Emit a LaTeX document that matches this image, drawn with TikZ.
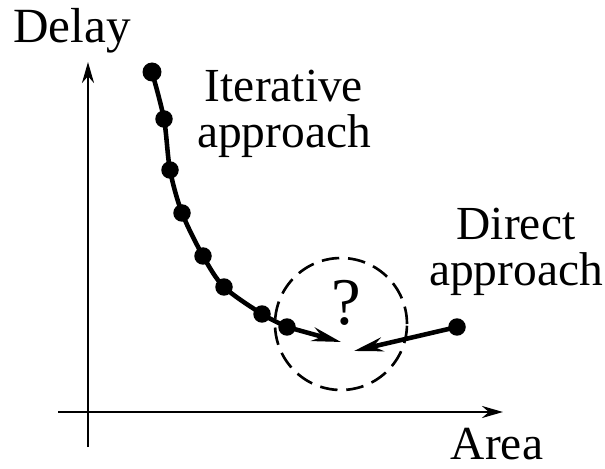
\documentclass[tikz,border=0pt]{standalone}
\usepackage{fontspec}
\setmainfont{Liberation Serif}
\usetikzlibrary{arrows.meta}

\begin{document}
\begin{tikzpicture}[
    x=0.02cm, y=-0.02cm,
    font=\fontsize{27}{26}\selectfont,
    dot/.style={circle, fill, inner sep=0pt, minimum size=0.35cm},
    lbl/.style={align=center, inner sep=0pt},
    axis/.style={line width=1.5pt, -{Stealth[length=4.2mm, width=2.4mm]}},
    curve/.style={line width=2.6pt, line cap=round, line join=round},
    arr/.style={line width=2.6pt, -{Stealth[length=5.8mm, width=2.8mm]}},
    ring/.style={draw, circle, line width=1.5pt, dash pattern=on 10pt off 5pt,
                 minimum size=2.64cm, inner sep=0pt},
  ]
  \useasboundingbox (0,0) rectangle (605,469);

  % axes
  \coordinate (ybot) at (88,447);
  \coordinate (ytop) at (88,62);
  \coordinate (xleft) at (58,412);
  \coordinate (xright) at (503,412);
  \draw[axis] (ybot) -- (ytop);
  \draw[axis] (xleft) -- (xright);
  \node[lbl, font=\fontsize{28}{28}\selectfont] (delay) at (72,31) {Delay};
  \node[lbl] (area) at (497,444) {Area};

  % iterative points along the curve
  \node[dot, minimum size=0.38cm] (p1) at (152,72) {};
  \node[dot] (p2) at (164,119) {};
  \node[dot] (p3) at (170,170) {};
  \node[dot] (p4) at (182,213) {};
  \node[dot] (p5) at (203,256) {};
  \node[dot] (p6) at (224,287) {};
  \node[dot] (p7) at (262,314) {};
  \node[dot] (p8) at (287,327) {};
  \draw[curve] plot[smooth, tension=0.5] coordinates {(p1) (p2) (p3) (p4) (p5) (p6) (p7) (p8)};

  % direct point
  \node[dot] (d) at (457,327) {};

  % the unknown region
  \node[ring] (q) at (341,324) {};
  \node[lbl, font=\fontsize{38}{38}\selectfont] (qm) at (346,303) {?};
  \coordinate (tipL) at (341,342);
  \coordinate (tipR) at (354,351);
  \draw[arr] (p8.center) -- (tipL);
  \draw[arr] (d.center) -- (tipR);

  \node[lbl] (iter) at (284,114) {Iterative\\approach};
  \node[lbl] (dir)  at (516,252) {Direct\\approach};
\end{tikzpicture}
\end{document}
